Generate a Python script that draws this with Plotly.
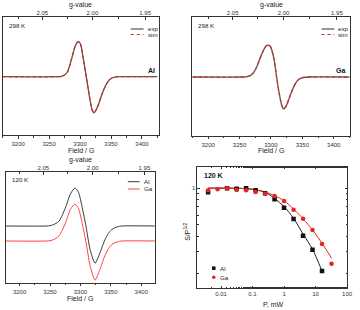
import plotly.graph_objects as go

# ---------------- data ----------------
# 298 K spectra (field in G, intensity in arbitrary units)
field_al_298 = [3175, 3265, 3270, 3274, 3277, 3280, 3284, 3288, 3292, 3295, 3298, 3301, 3305, 3310,
                3315, 3319, 3322.5, 3326, 3330, 3335, 3340, 3345, 3350, 3356, 3362, 3425]
int_al_298 = [0, 0, 0.01, 0.04, 0.08, 0.15, 0.36, 0.62, 0.86, 0.97, 1.0, 0.92, 0.55, 0.0,
              -0.55, -0.92, -1.03, -0.95, -0.78, -0.52, -0.3, -0.14, -0.05, -0.01, 0, 0]
field_ga_298 = [3175, 3256, 3262, 3267, 3272, 3277, 3282, 3287, 3292, 3296.5, 3300, 3305, 3309,
                3313, 3317, 3320, 3324, 3328, 3333, 3338, 3343, 3348, 3353, 3360, 3425]
int_ga_298 = [0, 0, 0.01, 0.04, 0.12, 0.27, 0.5, 0.72, 0.88, 0.91, 0.84, 0.5, 0.0,
              -0.45, -0.8, -0.91, -0.84, -0.66, -0.42, -0.22, -0.09, -0.03, -0.01, 0, 0]

# 120 K spectra
field_120 = [3175, 3245, 3250, 3255, 3260, 3265, 3270, 3276, 3284, 3291, 3297, 3303, 3309,
             3316, 3324, 3332, 3340, 3346, 3351, 3356, 3361, 3368, 3425]
int_al_120 = [0, 0, 0.01, 0.03, 0.07, 0.13, 0.28, 0.51, 0.86, 1.0, 0.88, 0.48, 0.0,
              -0.63, -0.98, -0.71, -0.37, -0.19, -0.1, -0.05, -0.02, 0, 0]
int_ga_120 = [0, 0, 0.01, 0.03, 0.07, 0.14, 0.28, 0.5, 0.85, 0.97, 0.85, 0.45, -0.02,
              -0.66, -1.03, -0.75, -0.39, -0.2, -0.1, -0.05, -0.02, 0, 0]
ga_120_offset = -0.395

# g-value axis labels
g_major = [2.05, 2.00, 1.95]
g_major_text = ["2.05", "2.00", "1.95"]
g_minor = [2.075, 2.025, 1.975]
g_factor_field = 6640.0  # g * B (G) for this microwave frequency

# power saturation (120 K)
power_al = [0.0039, 0.0156, 0.03125, 0.0625, 0.125, 0.25, 0.5, 1, 2, 4, 8, 16]
sat_al = [0.924, 0.997, 0.989, 0.997, 0.959, 0.906, 0.809, 0.690, 0.557, 0.406, 0.311, 0.208]
power_ga = [0.0039, 0.0078, 0.0156, 0.03125, 0.0625, 0.125, 0.25, 0.5, 1, 2, 4, 8, 16, 32]
sat_ga = [0.959, 0.978, 0.997, 0.965, 0.959, 0.929, 0.900, 0.861, 0.783, 0.665, 0.560, 0.452, 0.347, 0.239]
fit_p_al = [0.0039, 0.01, 0.03, 0.06, 0.1, 0.25, 0.5, 1, 2, 4, 8, 16]
fit_al = [1.0, 1.0, 0.998, 0.99, 0.978, 0.925, 0.824, 0.703, 0.565, 0.420, 0.314, 0.208]
fit_p_ga = [0.0039, 0.01, 0.03, 0.06, 0.1, 0.25, 0.5, 1, 2, 4, 8, 16, 32]
fit_ga = [1.0, 1.0, 0.998, 0.99, 0.978, 0.93, 0.866, 0.788, 0.673, 0.560, 0.452, 0.352, 0.265]
p_ticks = [0.01, 0.1, 1, 10, 100]
p_tick_text = ["0.01", "0.1", "1", "10", "100"]

# ---------------- style ----------------
W, H = 360, 310
FONT = "Liberation Sans, Arial, sans-serif"
GREY = "#555555"
RED = "#e3261f"
LRED = "#ff4040"
AXC = "#333333"


def px(x):
    return x / W


def py(y):
    return 1 - y / H


fig = go.Figure()

# panel 1
fig.add_trace(go.Scatter(x=field_al_298, y=int_al_298, xaxis="x", yaxis="y", mode="lines",
                         line=dict(color=GREY, width=1.3, shape="spline", smoothing=0.6)))
fig.add_trace(go.Scatter(x=field_al_298, y=int_al_298, xaxis="x", yaxis="y", mode="lines",
                         line=dict(color=RED, width=1.3, dash="dot", shape="spline", smoothing=0.6)))
# panel 2
fig.add_trace(go.Scatter(x=field_ga_298, y=int_ga_298, xaxis="x3", yaxis="y2", mode="lines",
                         line=dict(color=GREY, width=1.3, shape="spline", smoothing=0.6)))
fig.add_trace(go.Scatter(x=field_ga_298, y=int_ga_298, xaxis="x3", yaxis="y2", mode="lines",
                         line=dict(color=RED, width=1.3, dash="dot", shape="spline", smoothing=0.6)))
# panel 3
fig.add_trace(go.Scatter(x=field_120, y=int_al_120, xaxis="x5", yaxis="y3", mode="lines",
                         line=dict(color="#3a3a3a", width=1, shape="spline", smoothing=0.6)))
fig.add_trace(go.Scatter(x=field_120, y=[v + ga_120_offset for v in int_ga_120], xaxis="x5", yaxis="y3",
                         mode="lines", line=dict(color=LRED, width=1, shape="spline", smoothing=0.6)))
# invisible traces for top axes
for xa, ya in (("x2", "y"), ("x4", "y2"), ("x6", "y3")):
    fig.add_trace(go.Scatter(x=[None], y=[None], xaxis=xa, yaxis=ya, mode="lines", hoverinfo="skip"))
# panel 4
fig.add_trace(go.Scatter(x=fit_p_al, y=fit_al, xaxis="x7", yaxis="y4", mode="lines",
                         line=dict(color="#222222", width=1, shape="spline", smoothing=0.8)))
fig.add_trace(go.Scatter(x=fit_p_ga, y=fit_ga, xaxis="x7", yaxis="y4", mode="lines",
                         line=dict(color=RED, width=1, shape="spline", smoothing=0.8)))
fig.add_trace(go.Scatter(x=power_al, y=sat_al, xaxis="x7", yaxis="y4", mode="markers",
                         marker=dict(symbol="square", size=4.5, color="#111111")))
fig.add_trace(go.Scatter(x=power_ga, y=sat_ga, xaxis="x7", yaxis="y4", mode="markers",
                         marker=dict(symbol="circle", size=4.5, color=RED)))

tickfont = dict(family=FONT, size=6, color=AXC)
titlefont = dict(family=FONT, size=7, color="#222222")


def field_axis(domain, rng, anchor):
    return dict(domain=domain, range=rng, anchor=anchor, showgrid=False, zeroline=False,
                showline=True, linecolor=AXC, linewidth=0.8, mirror=True,
                ticks="outside", ticklen=2.5, tickwidth=0.7, tickcolor=AXC,
                tickvals=[3200, 3250, 3300, 3350, 3400], tickfont=tickfont,
                minor=dict(dtick=25, tick0=3175, ticks="outside", ticklen=1.5, tickwidth=0.6, tickcolor=AXC))


def g_axis(over, anchor, rng):
    return dict(overlaying=over, anchor=anchor, side="top", range=rng, showgrid=False, zeroline=False,
                showline=False, ticks="inside", ticklen=2.5, tickwidth=0.7, tickcolor=AXC,
                tickvals=[g_factor_field / g for g in g_major], ticktext=g_major_text,
                tickfont=tickfont,
                minor=dict(tickvals=[g_factor_field / g for g in g_minor], ticks="inside",
                           ticklen=1.5, tickwidth=0.6, tickcolor=AXC))


def blank_y(domain, rng, anchor):
    return dict(domain=domain, range=rng, anchor=anchor, showgrid=False, zeroline=False,
                showline=True, linecolor=AXC, linewidth=0.8, mirror=True, ticks="",
                showticklabels=False)


r1 = [3175, 3428]
r2 = [3175, 3426]
r3 = [3177, 3422]

fig.update_layout(
    width=W, height=H, margin=dict(l=0, r=0, t=0, b=0),
    paper_bgcolor="white", plot_bgcolor="white", showlegend=False,
    xaxis=field_axis([px(2.7), px(162)], r1, "y"),
    xaxis2=g_axis("x", "y", r1),
    yaxis=blank_y([py(135.3), py(17)], [-1.674, 1.706], "x"),
    xaxis3=field_axis([px(195.7), px(356)], r2, "y2"),
    xaxis4=g_axis("x3", "y2", r2),
    yaxis2=blank_y([py(136), py(17)], [-1.686, 1.714], "x3"),
    xaxis5=field_axis([px(5.7), px(157.3)], r3, "y3"),
    xaxis6=g_axis("x5", "y3", r3),
    yaxis3=blank_y([py(283), py(172)], [-1.5, 1.421], "x5"),
    xaxis7=dict(domain=[px(200.7), px(353)], anchor="y4", type="log", range=[-2.75, 2.0],
                showgrid=False, zeroline=False, showline=True, linecolor=AXC, linewidth=0.8,
                mirror="allticks", ticks="inside", ticklen=2.5, tickwidth=0.7, tickcolor=AXC,
                tickvals=p_ticks, ticktext=p_tick_text, tickfont=tickfont,
                minor=dict(ticks="inside", ticklen=1.5, tickwidth=0.6, tickcolor=AXC)),
    yaxis4=dict(domain=[py(288.3), py(166.7)], anchor="x7", type="log",
                range=[-0.8239, 0.1761], showgrid=False, zeroline=False, showline=True,
                linecolor=AXC, linewidth=0.8, mirror="allticks", ticks="inside", ticklen=2.5,
                tickwidth=0.7, tickcolor=AXC, tickvals=[1], ticktext=["1"], tickfont=tickfont,
                minor=dict(tickvals=[0.2, 0.3, 0.4, 0.5, 0.6, 0.7, 0.8, 0.9], ticks="inside",
                           ticklen=1.5, tickwidth=0.6, tickcolor=AXC)),
)

small = dict(family=FONT, size=6.2, color="#222222")
bold = dict(family=FONT, size=7, color="#111111")
ann = []
shapes = []


def text(x, y, s, font, xanchor="left", angle=0):
    ann.append(dict(x=px(x), y=py(y), xref="paper", yref="paper", text=s, showarrow=False,
                    font=font, xanchor=xanchor, yanchor="middle", textangle=angle))


def key_line(x0, x1, y, color, dash="solid", width=1.2):
    shapes.append(dict(type="line", xref="paper", yref="paper", x0=px(x0), x1=px(x1),
                       y0=py(y), y1=py(y), line=dict(color=color, width=width, dash=dash)))


# axis titles
text(82, 4.5, "g-value", titlefont, "center")
text(82, 150, "Field / G", titlefont, "center")
text(276, 4.5, "g-value", titlefont, "center")
text(276, 150, "Field / G", titlefont, "center")
text(81.5, 159.5, "g-value", titlefont, "center")
text(81.5, 298, "Field / G", titlefont, "center")
text(278, 304, "P, mW", titlefont, "center")
text(190, 232, "S/P<sup>1/2</sup>", titlefont, "center", -90)

# panel 1 texts / legend
text(7, 25, "298 K", small)
text(160, 70, "<b>Al</b>", bold, "right")
key_line(133, 146, 29, GREY)
text(148, 29, "exp", small)
key_line(133, 146, 34.5, RED, "dot")
text(148, 34.5, "sim", small)
# panel 2
text(199, 25, "298 K", small)
text(353, 70, "<b>Ga</b>", bold, "right")
key_line(327, 340, 29, GREY)
text(342, 29, "exp", small)
key_line(327, 340, 34.5, RED, "dot")
text(342, 34.5, "sim", small)
# panel 3
text(10, 179, "120 K", small)
key_line(130, 142, 181.7, "#3a3a3a", width=1)
text(144, 181.7, "Al", small)
key_line(130, 142, 189, LRED, width=1)
text(144, 189, "Ga", small)
# panel 4
text(205, 175, "<b>120 K</b>", bold)
shapes.append(dict(type="rect", xref="paper", yref="paper", x0=px(215.6), x1=px(219.2),
                   y0=py(270), y1=py(266.4), fillcolor="#111111", line=dict(width=0)))
text(222, 268.3, "Al", small)
shapes.append(dict(type="circle", xref="paper", yref="paper", x0=px(215.6), x1=px(219.2),
                   y0=py(279.1), y1=py(275.5), fillcolor=RED, line=dict(width=0)))
text(222, 277.3, "Ga", small)

fig.update_layout(annotations=ann, shapes=shapes)
fig.write_html("out.html", config={"displayModeBar": False},
               post_script="document.body.style.margin='0';document.body.style.padding='0';")
